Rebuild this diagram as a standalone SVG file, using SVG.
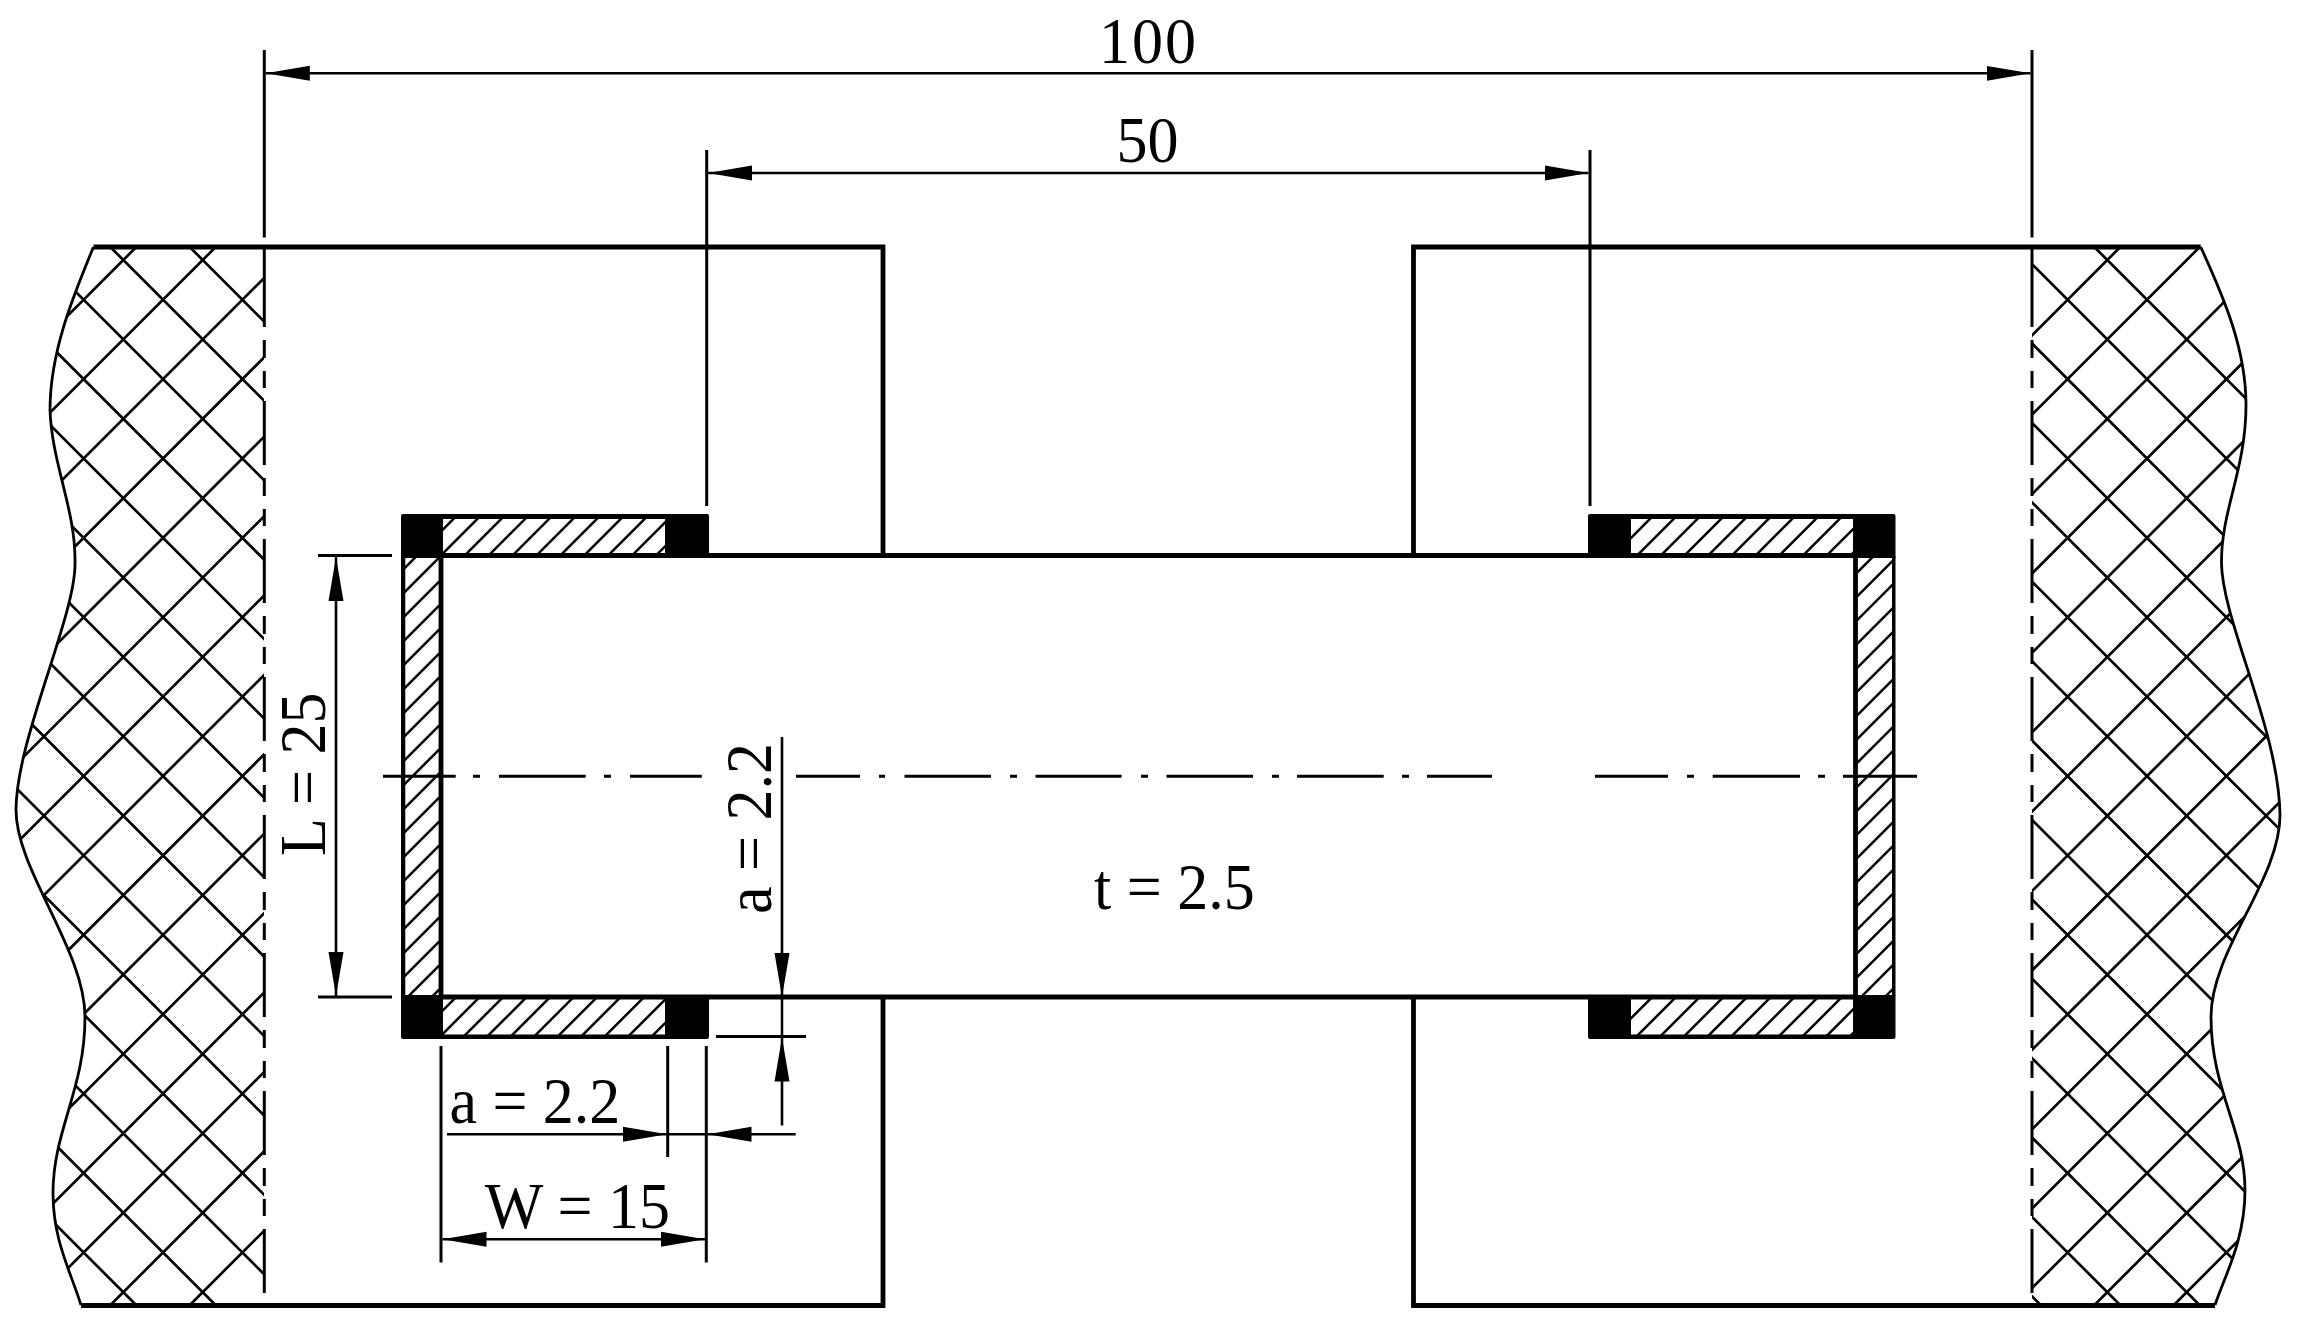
<svg xmlns="http://www.w3.org/2000/svg" width="2300" height="1336" viewBox="0 0 2300 1336">
<style>
.o{fill:none;stroke:#000;stroke-width:4.800;stroke-linecap:butt}
.e{fill:none;stroke:#000;stroke-width:2.800}
.h{fill:none;stroke:#000;stroke-width:2.700}
.w{fill:none;stroke:#000;stroke-width:2.500}
.d{fill:none;stroke:#000;stroke-width:3;stroke-dasharray:64 13 18 13 17 13}
.f{fill:#000;stroke:none}
.l{fill:none;stroke:#000;stroke-width:2.600;marker-end:url(#a)}
.b{fill:none;stroke:#000;stroke-width:2.600;marker-start:url(#s);marker-end:url(#a)}
.x{fill:none;stroke:#000;stroke-width:3}
text{font-family:"Liberation Serif","Times New Roman",serif;font-size:62px;fill:#000}
</style>
<defs>
<marker id="a" markerUnits="userSpaceOnUse" markerWidth="46" markerHeight="18" refX="44" refY="8" orient="auto"><path d="M0 0.5L44 8L0 15.5z" fill="#000"/></marker>
<marker id="s" markerUnits="userSpaceOnUse" markerWidth="46" markerHeight="18" refX="44" refY="8" orient="auto-start-reverse"><path d="M0 0.5L44 8L0 15.5z" fill="#000"/></marker>
<clipPath id="cl"><path d="M93.500 247C75 292 50 350 50 410C52 465 76 510 75 563C76 615 16 740 16 810C16 870 85 950 85 1017C85 1090 53 1130 53 1193C53 1240 70 1270 81 1305H264V247Z"/></clipPath>
<clipPath id="cr"><path d="M2200.700 247C2225 300 2246 350 2246 405C2246 470 2221 510 2221.500 563C2222 620 2279 730 2280 815C2280 880 2211 950 2211 1017C2211 1090 2245 1130 2245 1190C2245 1240 2225 1275 2215 1305H2032V247Z"/></clipPath>
<clipPath id="p1"><rect x="443" y="519" width="222" height="34"/></clipPath>
<clipPath id="p2"><rect x="1631" y="519" width="222" height="34"/></clipPath>
<clipPath id="p3"><rect x="443" y="999" width="222" height="36"/></clipPath>
<clipPath id="p4"><rect x="1631" y="999" width="222" height="36"/></clipPath>
<clipPath id="p5"><rect x="405" y="557" width="34" height="438"/></clipPath>
<clipPath id="p6"><rect x="1857" y="557" width="35" height="438"/></clipPath>
</defs>
<rect width="2300" height="1336" fill="#fff"/>

<g id="left-flange">
<g clip-path="url(#cl)">
<path class="h" d="M-15.500 240l-700 700M63.900 240l-1000 1000M143.300 240l-1100 1100M222.700 240l-1100 1100M302.100 240l-1100 1100M381.500 240l-1100 1100M460.900 240l-1100 1100M540.300 240l-1100 1100M619.700 240l-1100 1100M699.100 240l-1100 1100M778.500 240l-1100 1100M857.900 240l-1100 1100M937.300 240l-1100 1100M1016.700 240l-1100 1100M1096.100 240l-1100 1100M1175.500 240l-1100 1100M1254.900 240l-1100 1100M1334.300 240l-1100 1100"/>
<path class="h" d="M262.100 240l1100 1100M182.700 240l1100 1100M103.300 240l1100 1100M23.900 240l1100 1100M-55.500 240l1100 1100M-134.900 240l1100 1100M-214.300 240l1100 1100M-293.700 240l1100 1100M-373.100 240l1100 1100M-452.500 240l1100 1100M-531.900 240l1100 1100M-611.300 240l1100 1100M-690.700 240l1100 1100M-770.100 240l1100 1100M-849.500 240l1100 1100M-928.900 240l1100 1100M-1008.300 240l1100 1100"/>
</g>
<path class="e" d="M93.500 247C75 292 50 350 50 410C52 465 76 510 75 563C76 615 16 740 16 810C16 870 85 950 85 1017C85 1090 53 1130 53 1193C53 1240 70 1270 81 1305"/>
<path class="d" d="M264.300 263V1305"/><path class="x" d="M264.300 247V263"/>
<path class="o" d="M93.500 247H883V555.500M883 997V1305.500H81"/>
</g>

<g id="right-flange">
<g clip-path="url(#cr)">
<path class="h" d="M2127.300 240l-1100 1100M2206.700 240l-1100 1100M2286.100 240l-1100 1100M2365.500 240l-1100 1100M2444.900 240l-1100 1100M2524.300 240l-1100 1100M2603.700 240l-1100 1100M2683.100 240l-1100 1100M2762.500 240l-1100 1100M2841.900 240l-1100 1100M2921.300 240l-1100 1100M3000.700 240l-1100 1100M3080.100 240l-1100 1100M3159.500 240l-1100 1100M3238.900 240l-1100 1100M3318.300 240l-1100 1100"/>
<path class="h" d="M2087.300 240l1100 1100M2007.900 240l1100 1100M1928.500 240l1100 1100M1849.100 240l1100 1100M1769.700 240l1100 1100M1690.300 240l1100 1100M1610.900 240l1100 1100M1531.500 240l1100 1100M1452.100 240l1100 1100M1372.700 240l1100 1100M1293.300 240l1100 1100M1213.900 240l1100 1100M1134.500 240l1100 1100M1055.100 240l1100 1100M975.700 240l1100 1100M896.300 240l1100 1100M816.900 240l1100 1100M737.500 240l1100 1100"/>
</g>
<path class="e" d="M2200.700 247C2225 300 2246 350 2246 405C2246 470 2221 510 2221.500 563C2222 620 2279 730 2280 815C2280 880 2211 950 2211 1017C2211 1090 2245 1130 2245 1190C2245 1240 2225 1275 2215 1305"/>
<path class="d" d="M2032 263V1305"/><path class="x" d="M2032 247V263"/>
<path class="o" d="M2200.700 247H1413.500V555.500M1413.500 997V1305.500H2215"/>
</g>

<g id="plate">
<path class="o" d="M441 555.500H1855.500M441 997H1855.500"/>
<path class="o" d="M441 555.500V997M1855.500 555.500V997"/>
</g>

<g id="weld-left">
<g clip-path="url(#p1)"><path class="w" d="M457.400 515l-42 42M481.300 515l-42 42M505.200 515l-42 42M529.100 515l-42 42M553 515l-42 42M576.900 515l-42 42M600.800 515l-42 42M624.700 515l-42 42M648.600 515l-42 42M672.500 515l-42 42M696.400 515l-42 42"/></g>
<g clip-path="url(#p3)"><path class="w" d="M455.200 998l-42 42M478.700 998l-42 42M502.200 998l-42 42M525.700 998l-42 42M549.200 998l-42 42M572.700 998l-42 42M596.200 998l-42 42M619.700 998l-42 42M643.200 998l-42 42M666.700 998l-42 42M690.200 998l-42 42"/></g>
<g clip-path="url(#p5)"><path class="w" d="M445 527.700l-45 45M445 551.700l-45 45M445 575.700l-45 45M445 599.700l-45 45M445 623.700l-45 45M445 647.700l-45 45M445 671.700l-45 45M445 695.700l-45 45M445 719.700l-45 45M445 743.700l-45 45M445 767.700l-45 45M445 791.700l-45 45M445 815.700l-45 45M445 839.700l-45 45M445 863.700l-45 45M445 887.700l-45 45M445 911.700l-45 45M445 935.700l-45 45M445 959.700l-45 45M445 983.700l-45 45"/></g>
<path class="f" d="M401 516a2 2 0 0 1 2-2H707a2 2 0 0 1 2 2V558H665V519H443V558H401z"/>
<path class="f" d="M401 995H443V1034.500H665V995H709V1037a2 2 0 0 1-2 2H403a2 2 0 0 1-2-2z"/>
<rect class="f" x="401" y="556" width="4.300" height="440"/>
</g>

<g id="weld-right">
<g clip-path="url(#p2)"><path class="w" d="M1653.900 515l-42 42M1677.600 515l-42 42M1701.300 515l-42 42M1725 515l-42 42M1748.700 515l-42 42M1772.400 515l-42 42M1796.100 515l-42 42M1819.800 515l-42 42M1843.500 515l-42 42M1867.200 515l-42 42M1890.900 515l-42 42"/></g>
<g clip-path="url(#p4)"><path class="w" d="M1651.300 998l-42 42M1675 998l-42 42M1698.700 998l-42 42M1722.400 998l-42 42M1746.100 998l-42 42M1769.800 998l-42 42M1793.500 998l-42 42M1817.200 998l-42 42M1840.900 998l-42 42M1864.600 998l-42 42M1888.300 998l-42 42"/></g>
<g clip-path="url(#p6)"><path class="w" d="M1900 529.700l-45 45M1900 553.500l-45 45M1900 577.300l-45 45M1900 601.100l-45 45M1900 624.900l-45 45M1900 648.700l-45 45M1900 672.500l-45 45M1900 696.300l-45 45M1900 720.100l-45 45M1900 743.900l-45 45M1900 767.700l-45 45M1900 791.500l-45 45M1900 815.300l-45 45M1900 839.100l-45 45M1900 862.900l-45 45M1900 886.700l-45 45M1900 910.500l-45 45M1900 934.300l-45 45M1900 958.100l-45 45M1900 981.900l-45 45"/></g>
<path class="f" d="M1588 516a2 2 0 0 1 2-2H1893.500a2 2 0 0 1 2 2V558H1853V519H1631V558H1588z"/>
<path class="f" d="M1588 995H1631V1034.500H1853V995H1895.500V1037a2 2 0 0 1-2 2H1590a2 2 0 0 1-2-2z"/>
<rect class="f" x="1892" y="556" width="3.500" height="440"/>
</g>

<g id="connectors">
<path class="x" d="M264.300 50V237.500M2032 50V237.500M706.700 150V506M1590 150V506M318 555.500H392M318 997H392M441 1046V1262.500M667.700 1046V1157M706.300 1046V1262.500M716 1036.500H806"/>
<path class="b" d="M265.800 73.300H2030.500"/>
<path class="b" d="M708 173H1588.500"/>
<path class="b" d="M336 557V996"/>
<path class="l" d="M782 737V997"/>
<path class="w" d="M782 997V1037M667 1134.300H707"/>
<path class="l" d="M782 1125.500V1037.500"/>
<path class="l" d="M447 1134.300H667"/>
<path class="l" d="M795.700 1134.300H707.500"/>
<path class="b" d="M442.500 1239.300H705"/>
<path class="x" d="M383 776.300H455.700M473 776.300H480M499 776.300H585.700M604 776.300H611M630 776.300H701.800M796 776.300H860M879 776.300H885M904.500 776.300H991M1010 776.300H1017M1035.500 776.300H1121.600M1141 776.300H1148M1166.500 776.300H1253M1272 776.300H1279M1297 776.300H1383.700M1402 776.300H1409M1427 776.300H1492M1595 776.300H1668M1687 776.300H1694M1712.700 776.300H1800M1818 776.300H1825M1843 776.300H1917"/>
</g>

<g id="labels">
<text transform="translate(1099 62.500) scale(1 1.060)" letter-spacing="2">100</text>
<text transform="translate(1116.500 162) scale(1 1.060)">50</text>
<text transform="translate(1094 909) scale(1 1.060)">t = 2.5</text>
<text transform="translate(449.400 1123) scale(1 1.060)">a = 2.2</text>
<text transform="translate(484.700 1227.700) scale(1 1.060)">W = 15</text>
<text transform="translate(325.400 856) rotate(-90) scale(1 1.060)">L = 25</text>
<text transform="translate(770.700 914) rotate(-90) scale(1 1.060)">a = 2.2</text>
</g>
</svg>
